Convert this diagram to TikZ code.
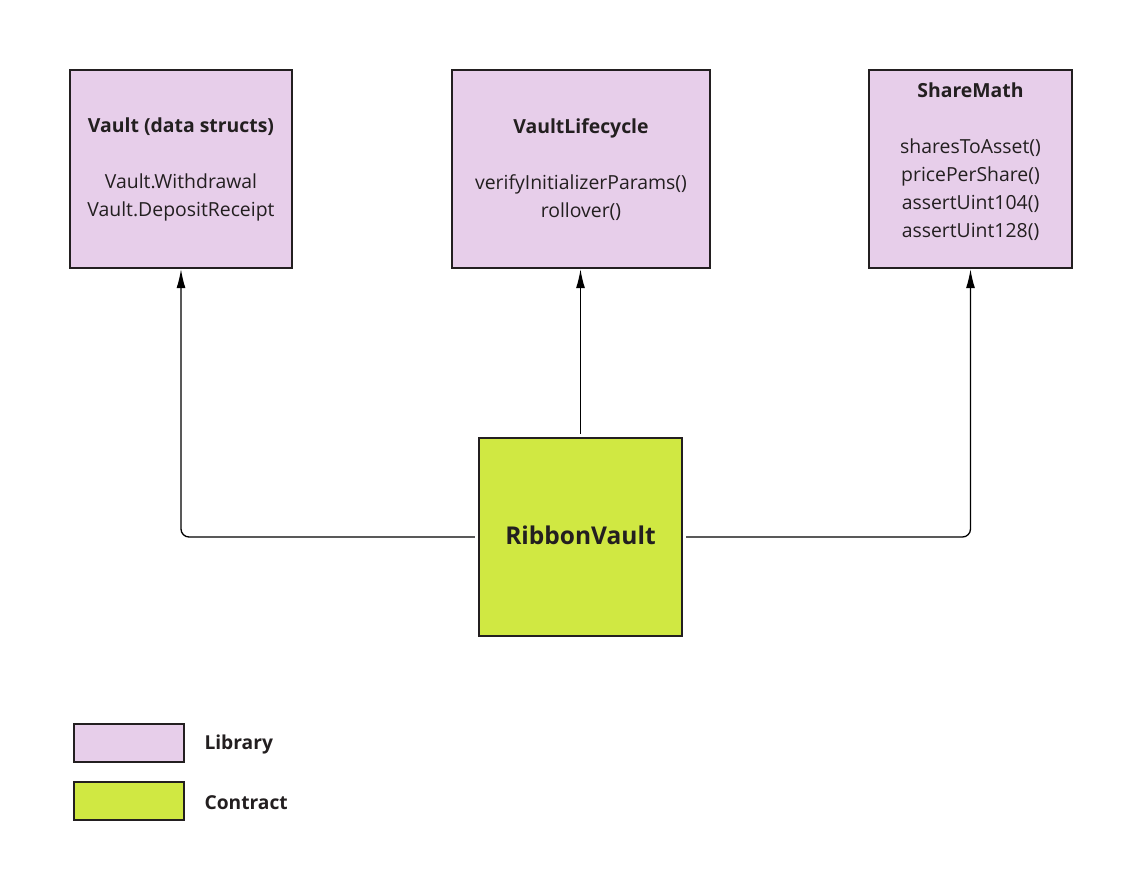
\documentclass[tikz,border=0pt]{standalone}
\usepackage{fontspec}
\setmainfont{Open Sans}
\usetikzlibrary{arrows.meta,calc}
\definecolor{libfill}{HTML}{E7CEEA}
\definecolor{confill}{HTML}{D0E842}
\definecolor{edge}{HTML}{231F20}
\begin{document}
\begin{tikzpicture}[x=1pt,y=-1pt,
  libbox/.style={draw=edge,line width=2.4pt,fill=libfill,minimum width=#1,minimum height=198pt,inner sep=0pt},
  conbox/.style={draw=edge,line width=2.4pt,fill=confill,minimum width=203pt,minimum height=198pt,inner sep=0pt},
  legbox/.style={draw=edge,line width=2.4pt,minimum width=110pt,minimum height=38pt,inner sep=0pt},
  body/.style={align=center,font=\fontsize{19.4}{28}\selectfont,text=edge},
  leglabel/.style={anchor=west,font=\fontsize{19.2}{20}\selectfont\bfseries,text=edge},
  conn/.style={draw=black,line width=1.3pt,rounded corners=8pt,-{Latex[length=19pt,width=9pt]}}
]
\useasboundingbox (0,0) rectangle (1141,875);
\node[libbox=222pt] (vault) at (181,169) {};
\node[body] (vaulttxt) at (181,169.5) {\textbf{Vault (data structs)}\\[28pt]Vault.Withdrawal\\Vault.DepositReceipt};
\node[libbox=258pt] (life) at (581,169) {};
\node[body] (lifetxt) at (581,169.5) {\textbf{VaultLifecycle}\\[28pt]verifyInitializerParams()\\rollover()};
\node[libbox=203pt] (share) at (970.5,169) {};
\node[body] (sharetxt) at (970.5,162) {\textbf{ShareMath}\\[28pt]sharesToAsset()\\pricePerShare()\\assertUint104()\\assertUint128()};
\node[conbox,text=edge] (ribbon) at (580.5,537) {};
\node[font=\fontsize{24.5}{28}\selectfont\bfseries,text=edge] (ribbontxt) at (580.5,535.5) {RibbonVault};
\node[legbox,fill=libfill] (leglib) at (129,743) {};
\node[leglabel] (leglibtxt) at (201,745) {Library};
\node[legbox,fill=confill] (legcon) at (129,801) {};
\node[leglabel] (legcontxt) at (201,802.5) {Contract};
\coordinate (rl) at ($(ribbon.west)+(-3,0)$);
\coordinate (rr) at ($(ribbon.east)+(3,0)$);
\coordinate (rt) at ($(ribbon.north)+(0,-3)$);
\draw[conn] (rl) -| (vault.south);
\draw[conn] (rt) -- (rt |- life.south);
\draw[conn] (rr) -| (share.south);
\end{tikzpicture}
\end{document}
